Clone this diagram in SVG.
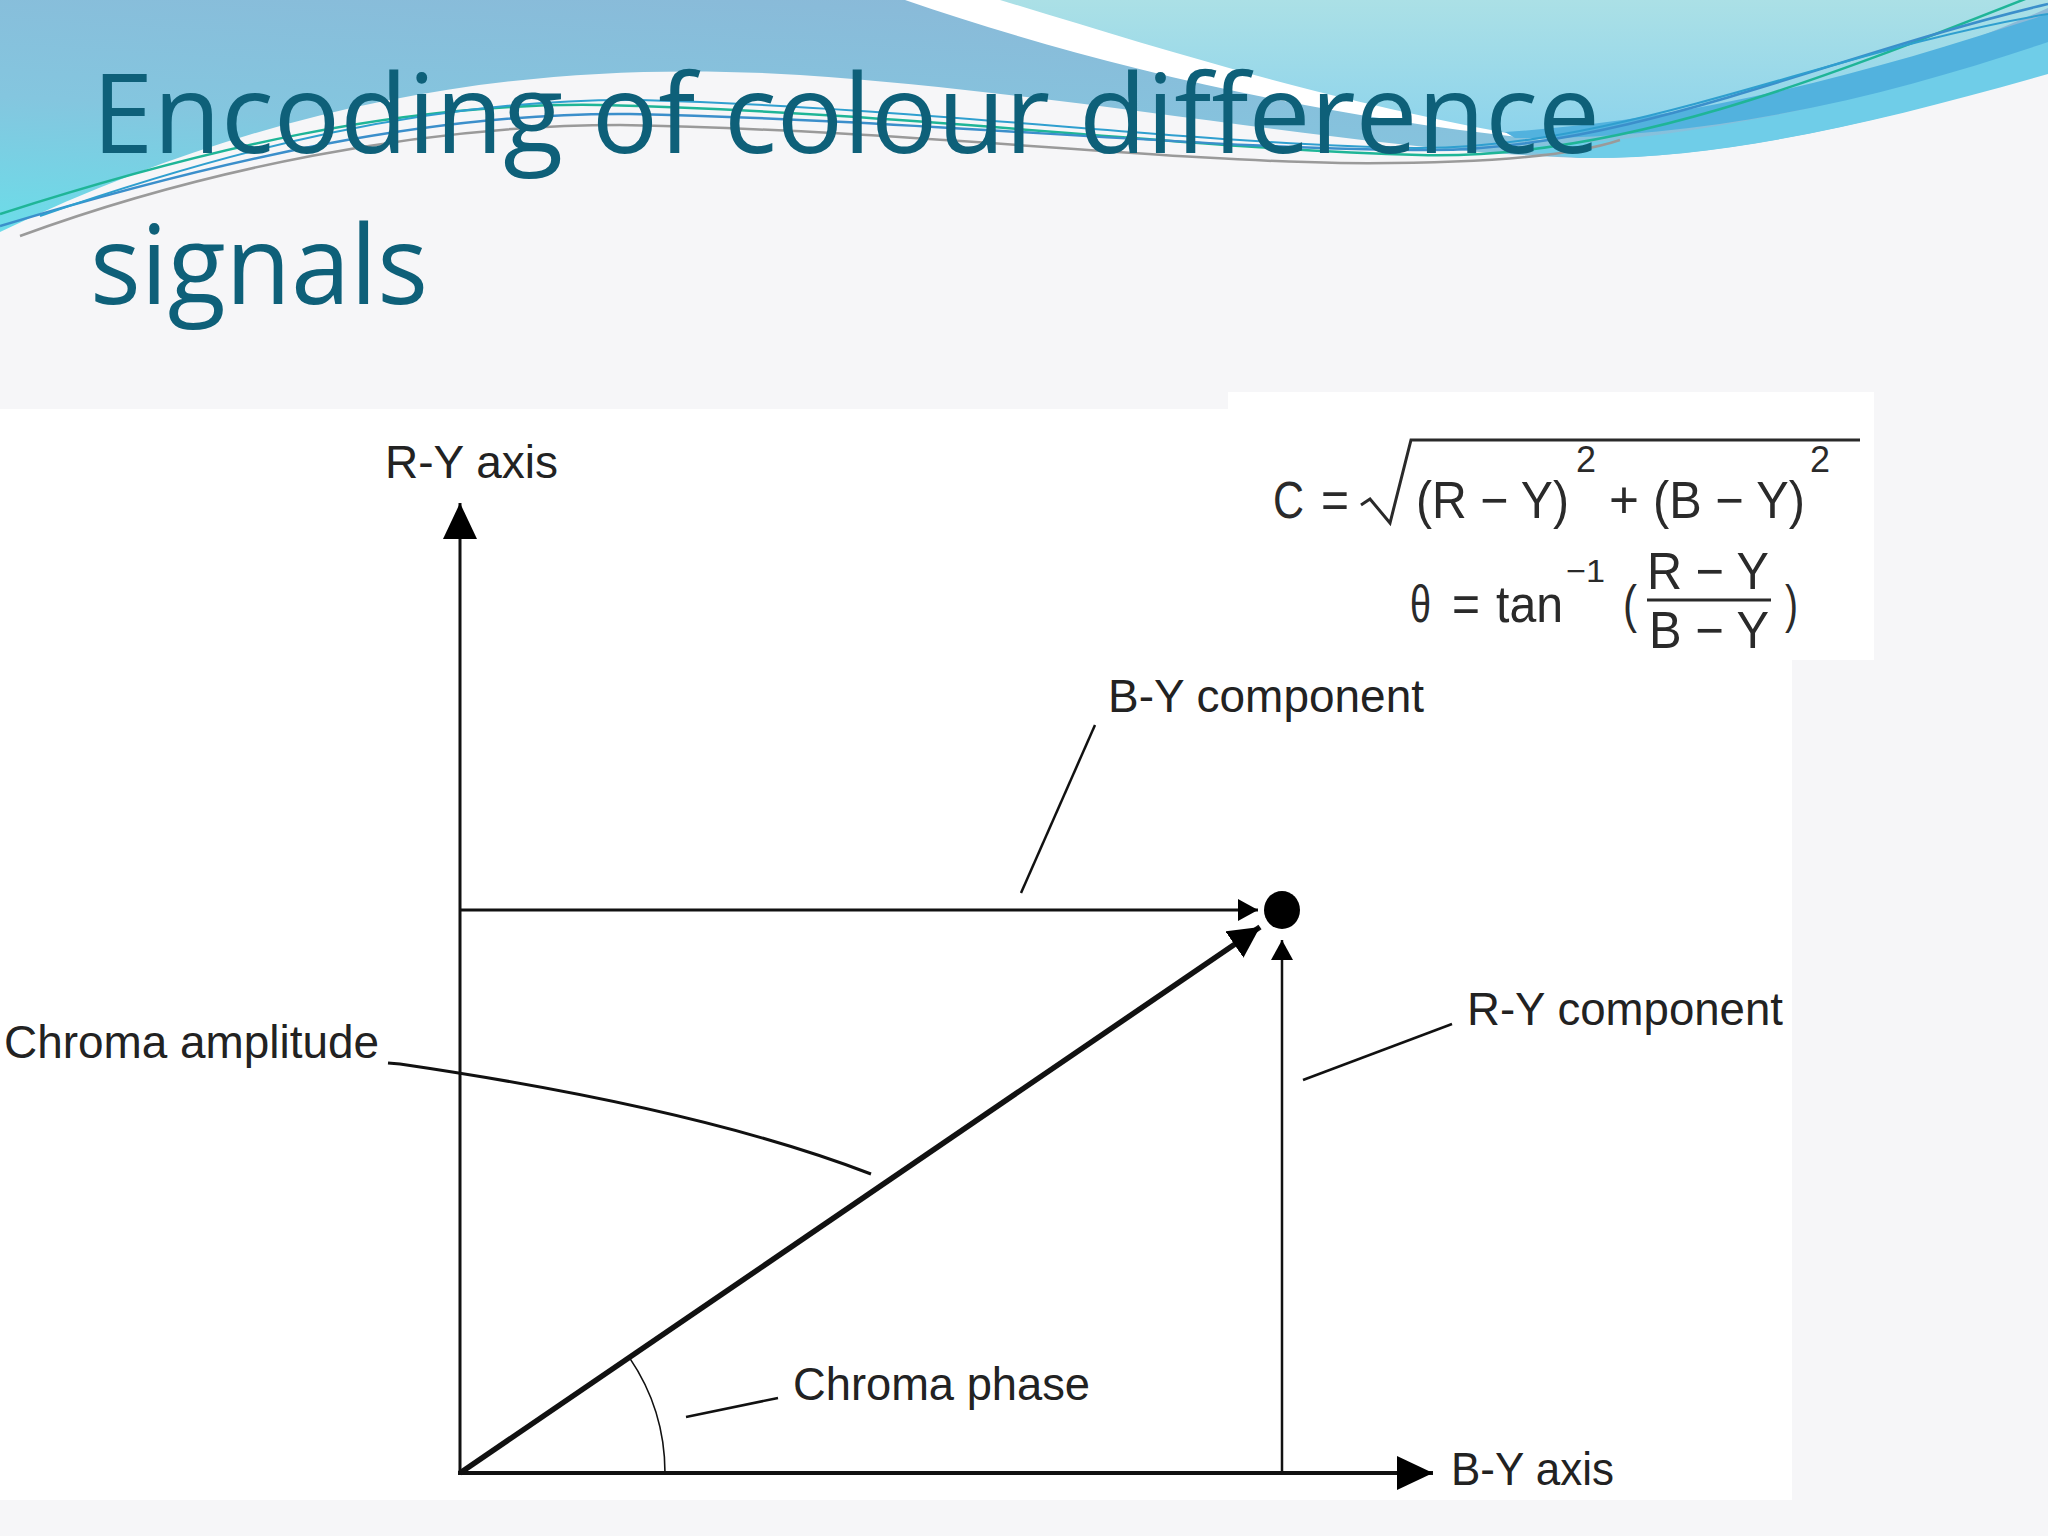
<svg xmlns="http://www.w3.org/2000/svg" width="2048" height="1536" viewBox="0 0 2048 1536">
  <defs>
    <linearGradient id="gBlue" x1="0" y1="1" x2="0.55" y2="0">
      <stop offset="0" stop-color="#6bdde9"/>
      <stop offset="0.45" stop-color="#84c6df"/>
      <stop offset="1" stop-color="#8ab9d8"/>
    </linearGradient>
    <linearGradient id="gTeal" x1="0" y1="0" x2="0" y2="1">
      <stop offset="0" stop-color="#abe0e6"/>
      <stop offset="1" stop-color="#8cd3ec"/>
    </linearGradient>
    <marker id="axisHead" markerUnits="userSpaceOnUse" markerWidth="40" markerHeight="40" refX="36" refY="17" orient="auto">
      <path d="M0,0 L36,17 L0,34 Z" fill="#000"/>
    </marker>
    <marker id="compHead" markerUnits="userSpaceOnUse" markerWidth="24" markerHeight="26" refX="20" refY="11" orient="auto">
      <path d="M0,0 L20,11 L0,22 Z" fill="#000"/>
    </marker>
    <marker id="vecHead" markerUnits="userSpaceOnUse" markerWidth="34" markerHeight="34" refX="31" refY="16" orient="auto">
      <path d="M0,0 L31,16 L0,32 Z" fill="#000"/>
    </marker>
    <style>
      .title { font-family: "Open Sans", "Noto Sans", sans-serif; font-size: 110px; fill: #0e6079; }
      .lbl { font-family: "Liberation Sans", Arial, sans-serif; font-size: 46px; fill: #222; }
      .fx { font-family: "Liberation Sans", Arial, sans-serif; font-size: 52px; fill: #2a2a2a; }
      .sup { font-family: "Liberation Sans", Arial, sans-serif; font-size: 36px; fill: #2a2a2a; }
      .ln { stroke: #111; fill: none; stroke-linecap: butt; }
    </style>
  </defs>

  <!-- slide background -->
  <rect x="0" y="0" width="2048" height="1536" fill="#f6f6f8"/>

  <!-- decorative header waves -->
  <g id="header-waves">
    <path d="M0,0 H2048 V72 C1880,122 1720,160 1580,158 C1350,150 1100,96 800,75 C560,60 300,88 0,232 Z" fill="url(#gBlue)"/>
    <path d="M985,0 C1150,55 1330,108 1545,138 C1760,122 1910,68 2048,8 V0 Z" fill="url(#gTeal)"/>
    <path d="M905,0 C1080,60 1300,115 1545,140 C1310,98 1160,48 1000,0 Z" fill="#ffffff"/>
    <path d="M1500,148 C1720,140 1900,90 2048,40 V74 C1880,122 1720,160 1580,158 Z" fill="#6fcde8"/>
    <path d="M1505,132 C1720,118 1900,62 2048,14 V42 C1900,92 1720,140 1515,138 Z" fill="#52b2de"/>
    <path d="M0,214 C200,150 400,102 600,105 C900,112 1200,150 1420,155 C1620,160 1820,80 2048,-10" fill="none" stroke="#1fb597" stroke-width="2.5"/>
    <path d="M0,226 C220,160 430,112 630,114 C920,120 1210,150 1430,150 C1630,150 1830,55 2048,4" fill="none" stroke="#3b8fcb" stroke-width="2.5"/>
    <path d="M40,216 C230,150 430,98 640,100 C930,108 1200,145 1415,148 C1620,150 1830,50 2048,14" fill="none" stroke="#2f9fcf" stroke-width="2"/>
    <path d="M20,236 C200,170 420,125 620,125 C900,130 1150,160 1340,163 C1450,164 1560,160 1620,140" fill="none" stroke="#9a9a9a" stroke-width="2.5"/>
  </g>

  <!-- title -->
  <g id="title">
    <text class="title" x="92" y="153" textLength="1508" lengthAdjust="spacingAndGlyphs">Encoding of colour difference</text>
    <text class="title" x="90" y="304" textLength="338" lengthAdjust="spacingAndGlyphs">signals</text>
  </g>

  <!-- white image panels -->
  <rect x="0" y="409" width="1792" height="1091" fill="#ffffff"/>
  <rect x="1228" y="392" width="646" height="268" fill="#ffffff"/>

  <!-- formula -->
  <g id="formula">
    <text class="fx" x="1273" y="518" textLength="31" lengthAdjust="spacingAndGlyphs">C</text>
    <text class="fx" x="1321" y="518" textLength="28" lengthAdjust="spacingAndGlyphs">=</text>
    <path d="M1361,505 L1370,499 L1390,523 L1411,440 L1860,440" fill="none" stroke="#2a2a2a" stroke-width="3"/>
    <text class="fx" x="1416" y="518" textLength="153" lengthAdjust="spacingAndGlyphs">(R − Y)</text>
    <text class="sup" x="1576" y="472" textLength="20" lengthAdjust="spacingAndGlyphs">2</text>
    <text class="fx" x="1609" y="518" textLength="30" lengthAdjust="spacingAndGlyphs">+</text>
    <text class="fx" x="1653" y="518" textLength="152" lengthAdjust="spacingAndGlyphs">(B − Y)</text>
    <text class="sup" x="1810" y="472" textLength="20" lengthAdjust="spacingAndGlyphs">2</text>
    <text class="fx" x="1410" y="622" textLength="21" lengthAdjust="spacingAndGlyphs">θ</text>
    <text class="fx" x="1452" y="622" textLength="28" lengthAdjust="spacingAndGlyphs">=</text>
    <text class="fx" x="1496" y="622" textLength="67" lengthAdjust="spacingAndGlyphs">tan</text>
    <text class="sup" x="1566" y="582" style="font-size:32px" textLength="39" lengthAdjust="spacingAndGlyphs">−1</text>
    <text class="fx" x="1623" y="622" textLength="14" lengthAdjust="spacingAndGlyphs">(</text>
    <text class="fx" x="1647" y="589" textLength="122" lengthAdjust="spacingAndGlyphs">R − Y</text>
    <line x1="1647" y1="600" x2="1771" y2="600" stroke="#2a2a2a" stroke-width="3"/>
    <text class="fx" x="1649" y="648" textLength="120" lengthAdjust="spacingAndGlyphs">B − Y</text>
    <text class="fx" x="1785" y="622" textLength="13" lengthAdjust="spacingAndGlyphs">)</text>
  </g>

  <!-- connectors -->
  <g id="connectors">
    <line id="ry-axis" class="ln" x1="460" y1="1475" x2="460" y2="503" stroke="#444" stroke-width="3" marker-end="url(#axisHead)"/>
    <line id="by-axis" class="ln" x1="458" y1="1473" x2="1433" y2="1473" stroke="#444" stroke-width="4" marker-end="url(#axisHead)"/>
    <line id="by-comp" class="ln" x1="460" y1="910" x2="1258" y2="910" stroke-width="3" marker-end="url(#compHead)"/>
    <line id="ry-comp" class="ln" x1="1282" y1="1473" x2="1282" y2="940" stroke-width="2.5" marker-end="url(#compHead)"/>
    <line id="vector" class="ln" x1="460" y1="1473" x2="1260" y2="927" stroke-width="5.5" marker-end="url(#vecHead)"/>
    <path id="phase-arc" class="ln" d="M665,1473 A205,205 0 0 0 629.4,1357.6" stroke-width="1.6"/>
    <path id="amp-leader" class="ln" d="M388,1063 L400,1064 Q700,1108 871,1174" stroke-width="3"/>
    <line id="by-leader" class="ln" x1="1095" y1="725" x2="1021" y2="893" stroke-width="2.5"/>
    <line id="ry-leader" class="ln" x1="1452" y1="1024" x2="1303" y2="1080" stroke-width="2.5"/>
    <line id="phase-leader" class="ln" x1="686" y1="1417" x2="778" y2="1398" stroke-width="2.5"/>
  </g>

  <!-- nodes -->
  <g id="point">
    <ellipse cx="1282" cy="910" rx="18" ry="19" fill="#000"/>
  </g>
  <g id="label-ry-axis"><text class="lbl" x="385" y="478">R-Y axis</text></g>
  <g id="label-by-axis"><text class="lbl" x="1451" y="1485" textLength="163" lengthAdjust="spacingAndGlyphs">B-Y axis</text></g>
  <g id="label-by-comp"><text class="lbl" x="1108" y="712" textLength="316" lengthAdjust="spacingAndGlyphs">B-Y component</text></g>
  <g id="label-ry-comp"><text class="lbl" x="1467" y="1025" textLength="316" lengthAdjust="spacingAndGlyphs">R-Y component</text></g>
  <g id="label-amp"><text class="lbl" x="4" y="1058" textLength="375" lengthAdjust="spacingAndGlyphs">Chroma amplitude</text></g>
  <g id="label-phase"><text class="lbl" x="793" y="1400" textLength="297" lengthAdjust="spacingAndGlyphs">Chroma phase</text></g>
</svg>
